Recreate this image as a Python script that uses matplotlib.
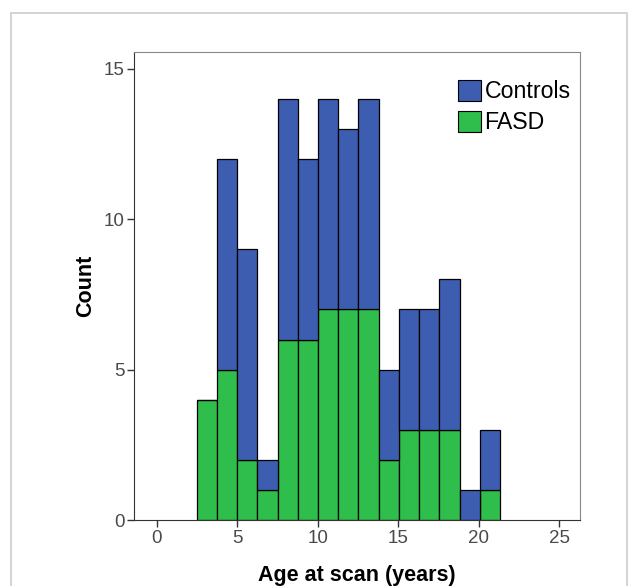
import numpy as np
import matplotlib
matplotlib.use("Agg")
import matplotlib.pyplot as plt
from matplotlib.patches import Rectangle, Patch

plt.rcParams['font.family'] = ['Liberation Sans', 'DejaVu Sans']

# histogram bins (years) and counts
bin_start = 2.47
bin_width = 1.257
fasd = [4, 5, 2, 1, 6, 6, 7, 7, 7, 2, 3, 3, 3, 0, 1]
controls = [0, 7, 7, 1, 8, 6, 7, 6, 7, 3, 4, 4, 5, 1, 2]

blue = '#3d5db0'
green = '#2fbe4c'

edges = bin_start + bin_width * np.arange(len(fasd))

fig = plt.figure(figsize=(6.38, 5.86), dpi=100)
ax = fig.add_axes([0.210, 0.1126, 0.699, 0.7992])

ax.bar(edges, fasd, width=bin_width, align='edge', color=green,
       edgecolor='black', linewidth=0.9, label='FASD')
ax.bar(edges, controls, width=bin_width, align='edge', bottom=fasd,
       color=blue, edgecolor='black', linewidth=0.9, label='Controls')

ax.set_xlim(-1.43, 26.3)
ax.set_ylim(0, 15.57)
ax.set_xticks([0, 5, 10, 15, 20, 25])
ax.set_yticks([0, 5, 10, 15])
ax.tick_params(direction='out', length=5, width=1, colors='#333333',
               labelcolor='#4a4a4a', labelsize=13.5, pad=2)

for s in ['left', 'bottom']:
    ax.spines[s].set_color('#333333')
for s in ['top', 'right']:
    ax.spines[s].set_color('#888888')

ax.set_xlabel('Age at scan (years)', fontsize=15.5, fontweight='bold', labelpad=13)
ax.set_ylabel('Count', fontsize=15.5, fontweight='bold', labelpad=5)

handles = [Patch(facecolor=blue, edgecolor='black', linewidth=0.8),
           Patch(facecolor=green, edgecolor='black', linewidth=0.8)]
ax.legend(handles, ['Controls', 'FASD'], loc='upper left',
          bbox_to_anchor=(0.726, 0.94), frameon=False, fontsize=16.7,
          handlelength=1.0, handleheight=1.0, handletextpad=0.15,
          labelspacing=0.34, borderaxespad=0, borderpad=0)

# light outer frame around the chart
fig.patches.append(Rectangle((11 / 638, -0.05), (627 - 11) / 638, 1 - 13 / 586 + 0.05,
                             transform=fig.transFigure, fill=False,
                             edgecolor='#cccccc', linewidth=1.2))

fig.savefig('out.png', dpi=100)
